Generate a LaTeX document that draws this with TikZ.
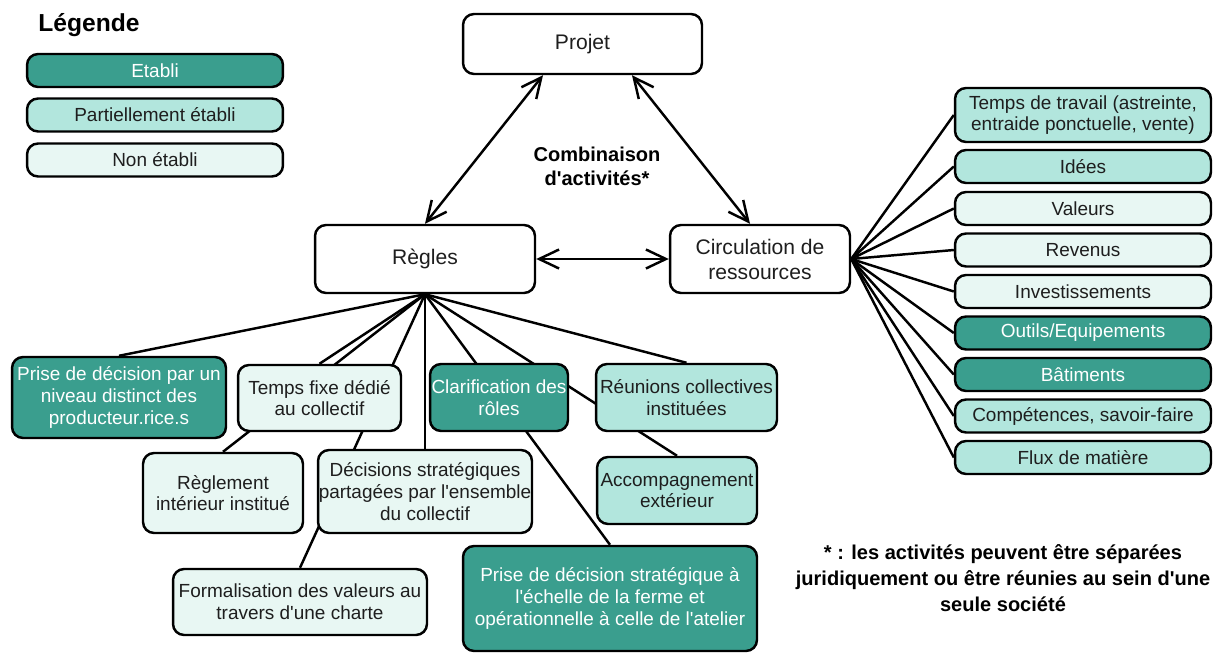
\documentclass[tikz,border=0pt]{standalone}
\usepackage{fontspec}
\setmainfont{Liberation Sans}[Ligatures=TeXOff]
\usepackage{tikz}
\usetikzlibrary{arrows.meta,backgrounds}
\definecolor{vertfonce}{RGB}{58,158,142}
\definecolor{vertmoyen}{RGB}{178,230,221}
\definecolor{vertclair}{RGB}{232,247,243}
\definecolor{texte}{RGB}{30,30,30}
\tikzset{
  boite/.style={draw, rounded corners=0.22cm, line width=1.4pt, align=center, inner sep=0pt,
    text=texte, font=\fontsize{10.8}{12.3}\selectfont},
  centre/.style={boite, fill=white, font=\fontsize{12}{14.2}\selectfont},
  etabli/.style={boite, fill=vertfonce, text=white},
  partiel/.style={boite, fill=vertmoyen},
  nonetabli/.style={boite, fill=vertclair},
  lien/.style={line width=1.4pt},
  fleche/.style={lien, {Straight Barb[length=4mm,width=3.8mm]}-{Straight Barb[length=4mm,width=3.8mm]}}
}

\begin{document}
\begin{tikzpicture}[x=0.02cm,y=-0.02cm]
  \useasboundingbox (0,0) rectangle (1226,652);

  %Legende
  \node[anchor=west, inner sep=0pt, font=\fontsize{14}{16}\selectfont\bfseries] (legende) at (38,25) {Légende};
  \node[etabli, minimum width=5.12cm, minimum height=0.66cm] (leg1) at (155,70.5) {Etabli};
  \node[partiel, minimum width=5.12cm, minimum height=0.66cm] (leg2) at (155,115) {Partiellement établi};
  \node[nonetabli, minimum width=5.12cm, minimum height=0.66cm] (leg3) at (155,160) {Non établi};

  %Triangle central
  \node[centre, minimum width=4.78cm, minimum height=1.2cm] (projet) at (582.5,44) {Projet};
  \node[centre, minimum width=4.4cm, minimum height=1.36cm] (regles) at (425,259) {Règles};
  \node[centre, minimum width=3.6cm, minimum height=1.36cm] (circ) at (760,259) {Circulation de\\ressources};
  \node[align=center, font=\fontsize{11.4}{13.6}\selectfont\bfseries] (combi) at (597,166) {Combinaison\\d'activités*};

  \draw[fleche] ([xshift=-0.79cm]projet.south) -- (regles.north);
  \draw[fleche] ([xshift=0.99cm]projet.south) -- ([xshift=-0.2cm]circ.north);
  \draw[fleche] (regles.east) -- (circ.west);

  %Ressources
  \node[partiel, minimum width=5.12cm, minimum height=1.08cm] (temps) at (1083,115) {Temps de travail (astreinte,\\entraide ponctuelle, vente)};
  \node[partiel, minimum width=5.12cm, minimum height=0.66cm] (idees) at (1083,166.5) {Idées};
  \node[nonetabli, minimum width=5.12cm, minimum height=0.66cm] (valeurs) at (1083,208.5) {Valeurs};
  \node[nonetabli, minimum width=5.12cm, minimum height=0.66cm] (revenus) at (1083,250) {Revenus};
  \node[nonetabli, minimum width=5.12cm, minimum height=0.66cm] (invest) at (1083,291.5) {Investissements};
  \node[etabli, minimum width=5.12cm, minimum height=0.66cm] (outils) at (1083,333) {Outils/Equipements};
  \node[etabli, minimum width=5.12cm, minimum height=0.66cm] (batiments) at (1083,374.5) {Bâtiments};
  \node[partiel, minimum width=5.12cm, minimum height=0.66cm] (compet) at (1083,416) {Compétences, savoir-faire};
  \node[partiel, minimum width=5.12cm, minimum height=0.66cm] (flux) at (1083,457.5) {Flux de matière};
  \foreach \r in {temps,idees,valeurs,revenus,invest,outils,batiments,compet,flux}
    \draw[lien] (circ.east) -- (\r.west);

  %Regles
  \node[etabli, minimum width=4.28cm, minimum height=1.62cm] (prise1) at (119,397.5) {Prise de décision par un\\niveau distinct des\\producteur.rice.s};
  \node[nonetabli, minimum width=3.26cm, minimum height=1.32cm] (tempsfixe) at (319.5,398) {Temps fixe dédié\\au collectif};
  \node[etabli, minimum width=2.76cm, minimum height=1.34cm] (clarif) at (499,397.5) {Clarification des\\rôles};
  \node[partiel, minimum width=3.62cm, minimum height=1.34cm] (reunions) at (686.5,397.5) {Réunions collectives\\instituées};
  \node[nonetabli, minimum width=3.2cm, minimum height=1.6cm] (reglement) at (223,493) {Règlement\\intérieur institué};
  \node[nonetabli, minimum width=4.28cm, minimum height=1.66cm] (decisions) at (425,491.5) {Décisions stratégiques\\partagées par l'ensemble\\du collectif};
  \node[partiel, minimum width=3.2cm, minimum height=1.34cm] (accomp) at (677,490.5) {Accompagnement\\extérieur};
  \node[nonetabli, minimum width=5.08cm, minimum height=1.32cm] (formal) at (300,602) {Formalisation des valeurs au\\travers d'une charte};
  \node[etabli, minimum width=5.88cm, minimum height=2.1cm] (prise2) at (610,598.5) {Prise de décision stratégique à\\l'échelle de la ferme et\\opérationnelle à celle de l'atelier};
  \begin{pgfonlayer}{background}
    \foreach \r in {prise1,tempsfixe,reglement,formal,decisions,prise2,accomp,reunions}
      \draw[lien] (regles.south) -- (\r.north);
  \end{pgfonlayer}

  %Note
  \node[align=center, font=\fontsize{11.4}{14.8}\selectfont\bfseries] (note) at (1003,578) {* : les activités peuvent être séparées\\juridiquement ou être réunies au sein d'une\\seule société};
\end{tikzpicture}
\end{document}
